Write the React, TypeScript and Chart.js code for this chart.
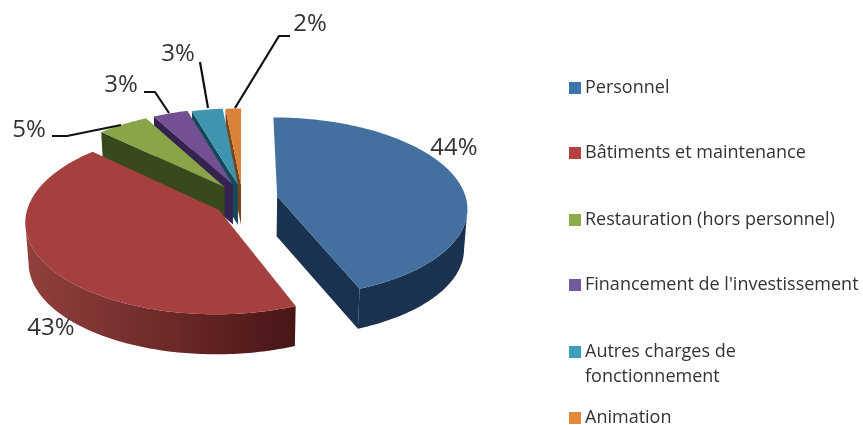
import React, { useEffect, useRef } from "react";
import { Chart, registerables } from "chart.js";

Chart.register(...registerables);

const categories = [
  "Personnel",
  "Bâtiments et maintenance",
  "Restauration (hors personnel)",
  "Financement de l'investissement",
  "Autres charges de\nfonctionnement",
  "Animation",
];
const values = [44, 43.1, 5, 3.4, 3, 1.5];
const topColors = ["#44709f", "#a5403e", "#88a648", "#735092", "#3f95b0", "#d9823a"];
const wallColors = ["#1a324f", "#6a2726", "#384a1c", "#35224e", "#14495a", "#7a4418"];
const legendColors = ["#3f73ab", "#b5413e", "#8fac4c", "#735a9f", "#3fa0bc", "#e38a3a"];
const explode = [0.19, 0.145, 0.155, 0.13, 0.118, 0.115];
const lift = [0.05, 0.085, 0.03, 0, 0, 0];

const view = { cx: 242, cy: 195, a: 188, b: 88, p: 0.12, depth: 40, shrink: 0.985 };
const paintOrder = [5, 4, 3, 2, 0, 1];

const project = (X: number, Y: number, down: boolean) => {
  const w = 1 - view.p * Y;
  return {
    x: view.cx + ((view.a * X) / w) * (down ? view.shrink : 1),
    y: view.cy + (view.b * Y) / w + (down ? view.depth : 0),
  };
};

const fillPoly = (ctx: any, pts: { x: number; y: number }[]) => {
  ctx.beginPath();
  pts.forEach((q, k) => (k ? ctx.lineTo(q.x, q.y) : ctx.moveTo(q.x, q.y)));
  ctx.closePath();
  ctx.fill();
};

const pie3d = {
  id: "pie3d",
  beforeDatasetsDraw(chart: any) {
    const ctx = chart.ctx;
    const meta = chart.getDatasetMeta(0);
    ctx.save();
    for (const i of paintOrder) {
      const { startAngle, endAngle } = meta.data[i].getProps(["startAngle", "endAngle"], true);
      const mid = (startAngle + endAngle) / 2;
      const ax = explode[i] * Math.cos(mid);
      const ay = explode[i] * Math.sin(mid) + lift[i];
      const steps = Math.max(4, Math.ceil(((endAngle - startAngle) * 180) / Math.PI));
      const plane: [number, number][] = [];
      for (let s = 0; s <= steps; s++) {
        const t = startAngle + ((endAngle - startAngle) * s) / steps;
        plane.push([ax + Math.cos(t), ay + Math.sin(t)]);
      }
      const top = plane.map(([X, Y]) => project(X, Y, false));
      const bot = plane.map(([X, Y]) => project(X, Y, true));
      const apexTop = project(ax, ay, false);
      const apexBot = project(ax, ay, true);

      let wallFill: any = wallColors[i];
      if (i === 1) {
        const g = ctx.createLinearGradient(26, 0, 292, 0);
        g.addColorStop(0, "#923f3d");
        g.addColorStop(0.5, "#6f2b2a");
        g.addColorStop(1, "#491616");
        wallFill = g;
      }
      ctx.fillStyle = wallFill;

      const faces = (from: { x: number; y: number }, to: { x: number; y: number }) =>
        to.x - from.x < -0.1 * Math.abs(to.y - from.y);
      if (faces(apexTop, top[0])) fillPoly(ctx, [apexTop, top[0], bot[0], apexBot]);
      const last = top.length - 1;
      if (faces(top[last], apexTop)) fillPoly(ctx, [top[last], apexTop, apexBot, bot[last]]);

      const front: number[] = [];
      for (let k = 0; k <= last; k++) {
        const prev = k > 0 && top[k].x < top[k - 1].x;
        const next = k < last && top[k + 1].x < top[k].x;
        if (prev || next) front.push(k);
      }
      if (front.length > 1) {
        const upper = front.map((k) => top[k]);
        const lower = front.map((k) => bot[k]).reverse();
        fillPoly(ctx, [...upper, ...lower]);
      }

      ctx.fillStyle = topColors[i];
      fillPoly(ctx, [apexTop, ...top]);
    }
    ctx.restore();
    return false;
  },
};

const callouts = [
  { at: [454, 148], line: [] as number[][] },
  { at: [51, 328], line: [] as number[][] },
  { at: [29, 130], line: [[52, 136], [67, 136], [121, 125]] },
  { at: [121, 85], line: [[144, 92], [155, 92], [169, 113]] },
  { at: [178, 54], line: [[200, 62], [208, 108]] },
  { at: [310, 24], line: [[290, 36], [279, 36], [235, 108]] },
];
const legendRows = [88, 153, 220, 285, 352, 418];

const annotations = {
  id: "annotations",
  afterDraw(chart: any) {
    const ctx = chart.ctx;
    ctx.save();
    ctx.textBaseline = "middle";
    callouts.forEach((c, i) => {
      if (c.line.length) {
        ctx.strokeStyle = "#111111";
        ctx.lineWidth = 2.2;
        ctx.lineJoin = "round";
        ctx.beginPath();
        c.line.forEach(([x, y], k) => (k ? ctx.lineTo(x, y) : ctx.moveTo(x, y)));
        ctx.stroke();
      }
      ctx.fillStyle = "#333333";
      ctx.font = '24px "Open Sans"';
      ctx.textAlign = "center";
      ctx.fillText(`${Math.round(values[i])}%`, c.at[0], c.at[1]);
    });
    ctx.textAlign = "left";
    ctx.font = '18px "Open Sans"';
    categories.forEach((label, i) => {
      const y = legendRows[i];
      ctx.fillStyle = legendColors[i];
      ctx.fillRect(569, y - 6, 12, 12);
      ctx.fillStyle = "#333333";
      label.split("\n").forEach((part, k) => ctx.fillText(part, 585, y + k * 25));
    });
    ctx.restore();
  },
};

export default function App() {
  const ref = useRef<HTMLCanvasElement>(null);
  useEffect(() => {
    const chart = new Chart(ref.current!, {
      type: "pie",
      data: {
        labels: categories,
        datasets: [{ data: values, backgroundColor: topColors, borderWidth: 0 }],
      },
      options: {
        animation: false,
        responsive: false,
        plugins: { legend: { display: false }, tooltip: { enabled: false } },
      },
      plugins: [pie3d, annotations],
    } as any);
    return () => chart.destroy();
  }, []);
  return (
    <div style={{ position: "fixed", left: 0, top: 0, width: 863, height: 425, background: "#fff", overflow: "hidden" }}>
      <canvas ref={ref} width={863} height={425} style={{ display: "block", filter: "blur(0.5px)" }} />
    </div>
  );
}
